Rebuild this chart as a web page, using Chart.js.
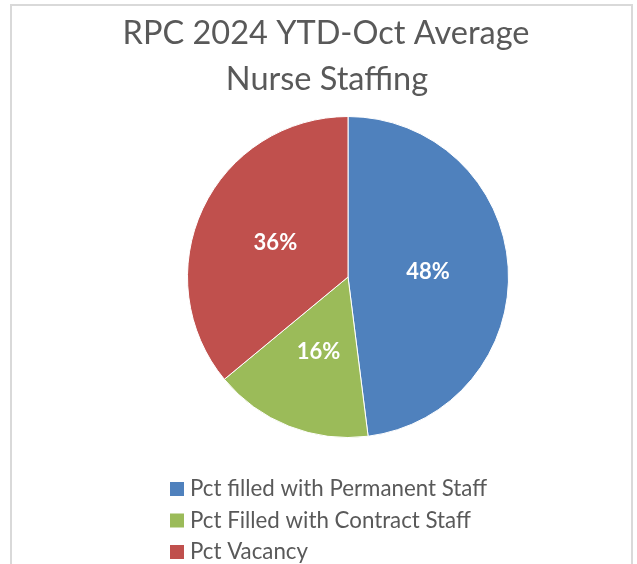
<!DOCTYPE html>
<html>
<head>
<meta charset="utf-8">
<script src="https://cdn.jsdelivr.net/npm/chart.js@4.4.1/dist/chart.umd.min.js"></script>
<style>
  html, body { margin: 0; padding: 0; background: #fff; }
  #wrap { position: relative; width: 637px; height: 564px; overflow: hidden; }
  #frame { position: absolute; left: 10px; top: 4px; width: 623px; height: 600px; border: 2px solid #d9d9d9; box-sizing: border-box; }
  canvas { position: absolute; left: 0; top: 0; }
</style>
</head>
<body>
<div id="wrap">
  <div id="frame"></div>
  <canvas id="myChart" width="637" height="564"></canvas>
</div>
<script>
var ctx = document.getElementById('myChart');

var title = ['RPC 2024 YTD-Oct Average', 'Nurse Staffing'];
var categories = ['Pct filled with Permanent Staff', 'Pct Filled with Contract Staff', 'Pct Vacancy'];
var pct_values = [48, 16, 36];
var colors = ['#4F81BD', '#9BBB59', '#C0504D'];

var fontName = 'Lato, "Open Sans", sans-serif';

// title, percent labels and the vertical legend drawn on the canvas
var textPlugin = {
  id: 'textPlugin',
  afterDraw: function(chart) {
    var c = chart.ctx;
    c.save();
    c.fillStyle = '#595959';
    c.textAlign = 'center';
    c.textBaseline = 'middle';
    c.font = '32.5px ' + fontName;
    c.fillText(title[0], 326, 34);
    c.fillText(title[1], 327, 80);

    var meta = chart.getDatasetMeta(0);
    var total = pct_values.reduce(function(a, b) { return a + b; }, 0);
    c.fillStyle = '#ffffff';
    c.font = 'bold 22px ' + fontName;
    meta.data.forEach(function(arc, i) {
      var p = arc.tooltipPosition();
      c.fillText(Math.round(pct_values[i] / total * 100) + '%', p.x, p.y);
    });

    c.textAlign = 'left';
    c.font = '22.3px ' + fontName;
    var items = chart.legend.legendItems;
    items.forEach(function(item, i) {
      var y = 489 + i * 31.5;
      c.fillStyle = item.fillStyle;
      c.fillRect(170, y - 7, 14, 14);
      c.fillStyle = '#595959';
      c.fillText(item.text, 190, y);
    });
    c.restore();
  }
};

var myChart = new Chart(ctx, {
  type: 'pie',
  data: {
    labels: categories,
    datasets: [{
      data: pct_values,
      backgroundColor: colors,
      borderColor: '#ffffff',
      borderWidth: 1
    }]
  },
  options: {
    responsive: false,
    animation: false,
    layout: { padding: { left: 187, right: 128, top: 116, bottom: 126 } },
    plugins: {
      legend: { display: false },
      title: { display: false },
      tooltip: { enabled: false }
    }
  },
  plugins: [textPlugin]
});
</script>
</body>
</html>
